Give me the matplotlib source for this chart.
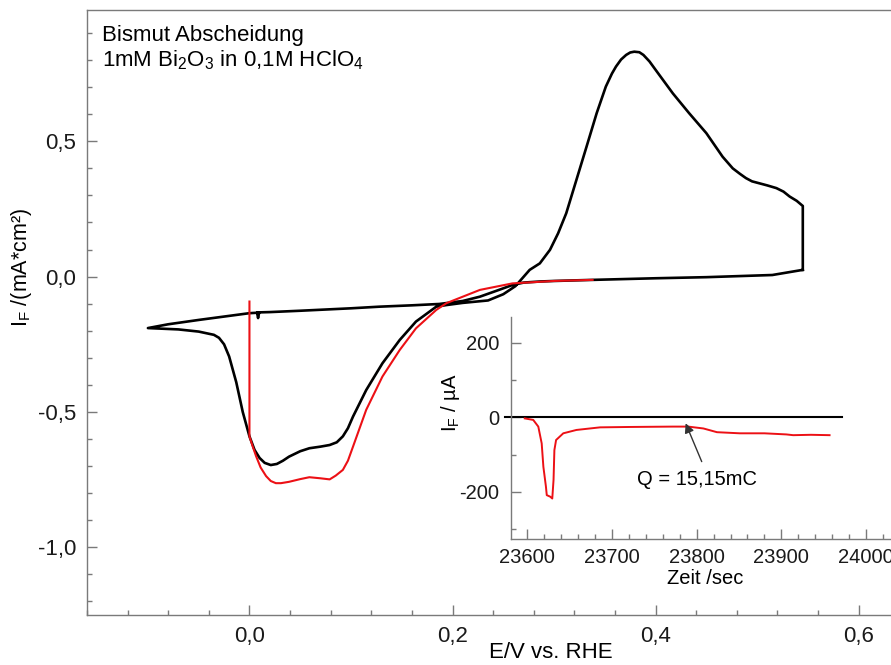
import matplotlib.pyplot as plt
from matplotlib.ticker import MultipleLocator, FuncFormatter

plt.rcParams['font.family'] = ['Liberation Sans', 'DejaVu Sans']
plt.rcParams['mathtext.fontset'] = 'custom'
plt.rcParams['mathtext.rm'] = 'Liberation Sans'

# CV, black loop: cathodic background sweep, then return sweep with the peaks
cv_e = [0.545, 0.515, 0.45, 0.40, 0.338, 0.30, 0.286, 0.27, 0.259, 0.245,
        0.227, 0.21, 0.187, 0.16, 0.128, 0.10, 0.05, 0.02, 0.01, 0.0075,
        0.0085, 0.0095, 0.0, -0.05, -0.08, -0.1,
        -0.07, -0.05, -0.035, -0.03, -0.025, -0.02, -0.013, -0.0066, 0.0, 0.005,
        0.01, 0.015, 0.021, 0.027, 0.033, 0.039, 0.05, 0.059, 0.07, 0.079,
        0.086, 0.092, 0.097, 0.102, 0.115, 0.131, 0.148, 0.164, 0.184, 0.194,
        0.21, 0.235, 0.25, 0.262, 0.276, 0.286, 0.296, 0.304, 0.312, 0.322,
        0.332, 0.342, 0.351, 0.357, 0.361, 0.366, 0.371, 0.375, 0.379, 0.384,
        0.388, 0.394, 0.40, 0.417, 0.433, 0.45, 0.466, 0.476, 0.483, 0.489,
        0.495, 0.502, 0.51, 0.519, 0.526, 0.532, 0.539, 0.545, 0.545]
cv_i = [0.025, 0.006, -0.002, -0.006, -0.012, -0.016, -0.018, -0.022, -0.031, -0.05,
        -0.074, -0.09, -0.101, -0.106, -0.111, -0.117, -0.126, -0.131, -0.132, -0.133,
        -0.153, -0.133, -0.135, -0.16, -0.176, -0.19,
        -0.195, -0.203, -0.215, -0.226, -0.25, -0.295, -0.39, -0.50, -0.59, -0.64,
        -0.67, -0.688, -0.696, -0.692, -0.68, -0.665, -0.645, -0.634, -0.628, -0.622,
        -0.612, -0.59, -0.56, -0.517, -0.419, -0.32, -0.234, -0.166, -0.111, -0.105,
        -0.097, -0.088, -0.065, -0.035, 0.025, 0.049, 0.099, 0.16, 0.234, 0.357,
        0.48, 0.604, 0.702, 0.75, 0.776, 0.802, 0.819, 0.828, 0.831, 0.829,
        0.819, 0.795, 0.764, 0.677, 0.604, 0.53, 0.443, 0.40, 0.38, 0.364,
        0.352, 0.345, 0.337, 0.327, 0.314, 0.296, 0.28, 0.261, 0.025]

# red sweep down to 0 V, then the potential step
dep_e = [0.338, 0.30, 0.259, 0.227, 0.194, 0.184, 0.164, 0.148, 0.131, 0.115,
         0.102, 0.097, 0.092, 0.085, 0.079, 0.07, 0.059, 0.05, 0.039, 0.031,
         0.026, 0.021, 0.0164, 0.011, 0.0066, 0.003, 0.0, 0.0]
dep_i = [-0.012, -0.016, -0.025, -0.049, -0.098, -0.123, -0.191, -0.271, -0.369, -0.492,
         -0.628, -0.68, -0.714, -0.735, -0.749, -0.745, -0.741, -0.748, -0.758, -0.763,
         -0.763, -0.755, -0.737, -0.705, -0.664, -0.625, -0.59, -0.092]

# inset: current transient at the potential step
step_t = [23597, 23607, 23613, 23617, 23619, 23622, 23623, 23627, 23629.5, 23631,
          23632, 23634, 23642.5, 23658, 23686, 23720, 23772, 23790, 23808, 23824,
          23851, 23880, 23906, 23914, 23935, 23957]
step_i = [-3, -7, -25, -70, -133, -186, -209, -213, -218, -168,
          -88, -61, -43, -34, -27, -26, -25, -25, -30, -40,
          -43, -43, -46, -48, -47, -48]
base_t = [23574, 23972]
base_i = [0, 0]

q_text = 'Q = 15,15mC'
q_xy = (23800, -168)
q_tail = (23806, -119)
q_head = (23787, -16)

SPINE = '#7a7a7a'
FS = 16
FS_IN = 14.5


def comma(fmt):
    return FuncFormatter(lambda v, p: (fmt % (0.0 if abs(v) < 1e-9 else v)).replace('.', ','))


def style(ax, size, pad):
    for s in ax.spines.values():
        s.set_color(SPINE)
        s.set_linewidth(1.0)
    ax.tick_params(which='both', direction='in', color=SPINE, labelsize=size,
                   labelcolor='#1a1a1a', width=1.0)
    ax.tick_params(which='major', length=7)
    ax.tick_params(which='minor', length=3.5)
    ax.tick_params(axis='x', pad=pad[0])
    ax.tick_params(axis='y', pad=pad[1])


fig = plt.figure(figsize=(8.91, 6.65), dpi=100)
ax = fig.add_axes([87 / 891, 50 / 665, 928 / 891, 605 / 665])
ax.plot(cv_e, cv_i, color='black', lw=1.9)
ax.plot(dep_e, dep_i, color='#ec1015', lw=1.5)
ax.set_xlim(-0.16, 0.754)
ax.set_ylim(-1.25, 0.985)
ax.xaxis.set_major_locator(MultipleLocator(0.2))
ax.xaxis.set_minor_locator(MultipleLocator(0.04))
ax.yaxis.set_major_locator(MultipleLocator(0.5))
ax.yaxis.set_minor_locator(MultipleLocator(0.1))
ax.xaxis.set_major_formatter(comma('%.1f'))
ax.yaxis.set_major_formatter(comma('%.1f'))
ax.spines['right'].set_visible(False)
style(ax, FS, (8, 8))
ax.set_xlabel('E/V vs. RHE', fontsize=FS, labelpad=-4)
ax.set_ylabel(r'I$_\mathregular{F}$ /(mA*cm²)', fontsize=15.5)
ax.yaxis.set_label_coords(-0.057, 0.574)
ax.text(0.016, 0.949, 'Bismut Abscheidung', transform=ax.transAxes,
        fontsize=FS, va='baseline')
ax.text(0.016, 0.906,
        r'1mM Bi$_\mathregular{2}$O$_\mathregular{3}$ in 0,1M HClO$_\mathregular{4}$',
        transform=ax.transAxes, fontsize=FS, va='baseline')

ins = fig.add_axes([510.7 / 891, 125.7 / 665, 388.3 / 891, 222.6 / 665])
ins.set_facecolor('white')
ins.plot(base_t, base_i, color='black', lw=1.5, clip_on=False)
ins.plot(step_t, step_i, color='#ec1015', lw=1.4)
ins.set_xlim(23580.4, 24039)
ins.set_ylim(-327.5, 270)
ins.xaxis.set_major_locator(MultipleLocator(100))
ins.xaxis.set_minor_locator(MultipleLocator(20))
ins.yaxis.set_major_locator(MultipleLocator(200))
ins.yaxis.set_minor_locator(MultipleLocator(100))
ins.xaxis.set_major_formatter(comma('%.0f'))
ins.yaxis.set_major_formatter(comma('%.0f'))
ins.spines['top'].set_visible(False)
ins.spines['right'].set_visible(False)
style(ins, FS_IN, (6, 8))
ins.set_xlabel('Zeit /sec', fontsize=FS_IN, labelpad=1.5)
ins.set_ylabel(r'I$_\mathregular{F}$ / µA', fontsize=FS_IN)
ins.yaxis.set_label_coords(-0.125, 0.615)
ins.annotate('', xy=q_head, xytext=q_tail,
             arrowprops=dict(arrowstyle='-|>', color='#333333', lw=1.0,
                             mutation_scale=14, shrinkA=0, shrinkB=0))
ins.text(q_xy[0], q_xy[1], q_text, fontsize=FS_IN, ha='center', va='center')

fig.savefig('out.png', dpi=100)
